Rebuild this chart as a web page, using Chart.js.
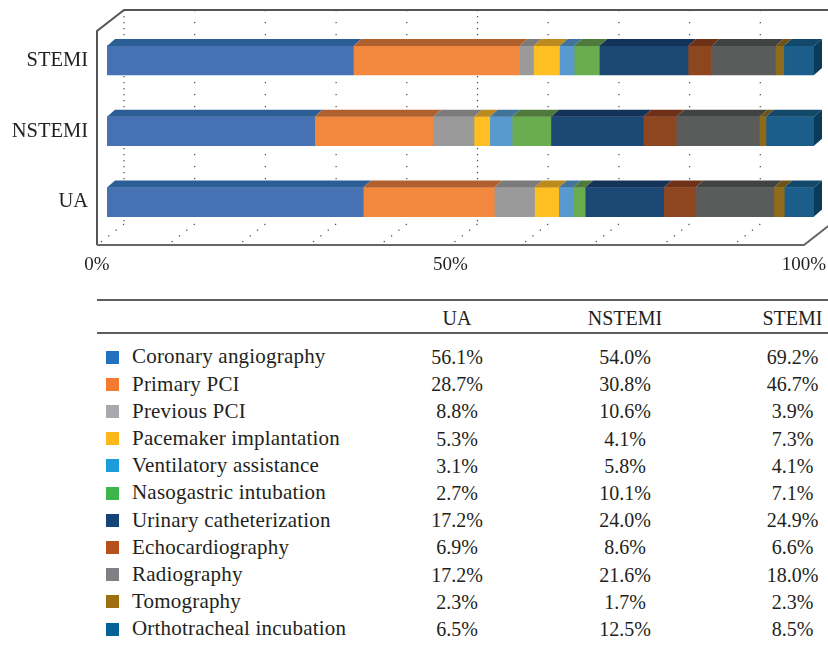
<!DOCTYPE html>
<html>
<head>
<meta charset="utf-8">
<script src="https://cdn.jsdelivr.net/npm/chart.js@4.4.1/dist/chart.umd.min.js"></script>
<style>
  html, body { margin: 0; padding: 0; background: #fff; }
  #wrap { position: relative; width: 828px; height: 646px; overflow: hidden; font-family: "Liberation Serif", "Times New Roman", serif; color: #231f20; }
  #c { position: absolute; left: 0; top: 0; }
  .rule { position: absolute; left: 97px; width: 731px; background: #5e5e5e; }
  .cell { position: absolute; font-size: 20px; line-height: 20px; white-space: nowrap; }
  .lab { font-size: 21px; letter-spacing: 0.2px; }
  .num { text-align: center; width: 120px; }
  .sq { position: absolute; width: 13px; height: 13px; }
</style>
</head>
<body>
<div id="wrap">
  <canvas id="c" width="828" height="290"></canvas>
</div>
<script>
// ---- data (from the table) ----
const categories = ['UA', 'NSTEMI', 'STEMI'];
const seriesNames = [
  'Coronary angiography', 'Primary PCI', 'Previous PCI', 'Pacemaker implantation',
  'Ventilatory assistance', 'Nasogastric intubation', 'Urinary catheterization',
  'Echocardiography', 'Radiography', 'Tomography', 'Orthotracheal incubation'
];
const coronaryAngiography   = [56.1, 54.0, 69.2];
const primaryPCI            = [28.7, 30.8, 46.7];
const previousPCI           = [8.8, 10.6, 3.9];
const pacemakerImplantation = [5.3, 4.1, 7.3];
const ventilatoryAssistance = [3.1, 5.8, 4.1];
const nasogastricIntubation = [2.7, 10.1, 7.1];
const urinaryCatheterization= [17.2, 24.0, 24.9];
const echocardiography      = [6.9, 8.6, 6.6];
const radiography           = [17.2, 21.6, 18.0];
const tomography            = [2.3, 1.7, 2.3];
const orthotrachealIncubation = [6.5, 12.5, 8.5];
const xTickValues = [0, 50, 100];

const seriesValues = [
  coronaryAngiography, primaryPCI, previousPCI, pacemakerImplantation,
  ventilatoryAssistance, nasogastricIntubation, urinaryCatheterization,
  echocardiography, radiography, tomography, orthotrachealIncubation
];

// ---- styles ----
const frontColors = ['#4672b4','#f2883d','#999a99','#fdbf22','#5899d0','#6aac50','#1c4876','#8e4621','#5a5c5c','#8e6a1b','#1b5e8b'];
const topColors   = ['#2c5e96','#b0602f','#7a7b7a','#bc8a1e','#417499','#4f7a3c','#143358','#6e3118','#414343','#6f5215','#12486a'];
const sideColor   = '#0a3c5a';
const legendColors= ['#2271be','#f47a30','#a8a9ad','#fdb718','#1c9dd9','#3eb54a','#134377','#b6501c','#7e8083','#9d6f11','#066197'];

// 100% stacked: each category normalised to its own total
const totals = categories.map((_, ci) => seriesValues.reduce((s, arr) => s + arr[ci], 0));
const datasets = seriesNames.map((name, si) => ({
  label: name,
  data: seriesValues[si].map((v, ci) => v / totals[ci] * 100),
  backgroundColor: frontColors[si],
  topColor: topColors[si],
  borderWidth: 0,
  barThickness: 29
}));

const DX = 8, DY = -7;          // bar depth
const WX = 27, WY = -21;        // wall depth
const FRONT = -10;              // front floor offset from bar plane

const threeD = {
  id: 'threeD',
  beforeDatasetsDraw(chart) {
    const ctx = chart.ctx, xs = chart.scales.x, ca = chart.chartArea;
    const floorY = ca.bottom + 7.5;
    const backFloorY = floorY + WY;
    const topY = ca.top - 15;
    ctx.save();
    // dotted gridlines
    ctx.strokeStyle = '#4a4a4a';
    ctx.lineWidth = 1.2;
    for (let v = 0; v <= 100; v += 10) {
      const fx = xs.getPixelForValue(v) + FRONT;
      const bx = fx + WX;
      ctx.setLineDash(v % 50 === 0 ? [1.3, 4.7] : [1.3, 10.7]);
      ctx.beginPath();
      ctx.moveTo(bx, topY);
      ctx.lineTo(bx, backFloorY);
      ctx.stroke();
      ctx.setLineDash([1.3, 8]);
      ctx.beginPath();
      ctx.moveTo(bx, backFloorY);
      ctx.lineTo(fx, floorY);
      ctx.stroke();
    }
    ctx.setLineDash([]);
    // frame
    const x0 = xs.getPixelForValue(0) + FRONT;
    const x1 = xs.getPixelForValue(100) + FRONT;
    ctx.strokeStyle = '#555';
    ctx.lineWidth = 2;
    ctx.lineJoin = 'miter';
    ctx.beginPath();
    ctx.moveTo(x0, floorY);
    ctx.lineTo(x0, topY - WY);
    ctx.lineTo(x0 + WX, topY);
    ctx.lineTo(chart.width + 5, topY);
    ctx.stroke();
    ctx.strokeStyle = '#666';
    ctx.beginPath();
    ctx.moveTo(x0, floorY);
    ctx.lineTo(x1, floorY);
    ctx.lineTo(x1 + WX, floorY + WY);
    ctx.stroke();
    ctx.restore();
  },
  afterDatasetsDraw(chart) {
    const ctx = chart.ctx;
    const last = chart.data.datasets.length - 1;
    ctx.save();
    chart.data.datasets.forEach((ds, i) => {
      const meta = chart.getDatasetMeta(i);
      meta.data.forEach(bar => {
        const p = bar.getProps(['x', 'y', 'base', 'height'], true);
        const top = p.y - p.height / 2, bottom = p.y + p.height / 2;
        ctx.fillStyle = ds.topColor;
        ctx.beginPath();
        ctx.moveTo(p.base, top);
        ctx.lineTo(p.base + DX, top + DY);
        ctx.lineTo(p.x + DX, top + DY);
        ctx.lineTo(p.x, top);
        ctx.closePath();
        ctx.fill();
        if (i === last) {
          ctx.fillStyle = sideColor;
          ctx.beginPath();
          ctx.moveTo(p.x, top);
          ctx.lineTo(p.x + DX, top + DY);
          ctx.lineTo(p.x + DX, bottom + DY);
          ctx.lineTo(p.x, bottom);
          ctx.closePath();
          ctx.fill();
        }
      });
    });
    ctx.restore();
  }
};

new Chart(document.getElementById('c'), {
  type: 'bar',
  data: { labels: categories, datasets },
  options: {
    indexAxis: 'y',
    responsive: false,
    animation: false,
    layout: { padding: { top: 25, right: 14, left: 0, bottom: 0 } },
    plugins: { legend: { display: false }, tooltip: { enabled: false } },
    scales: {
      x: {
        stacked: true, min: 0, max: 100,
        grid: { display: false, drawTicks: false },
        border: { display: false },
        afterBuildTicks: s => { s.ticks = xTickValues.map(v => ({ value: v })); },
        afterFit: s => { s.height = 52.5; s.paddingLeft = 0; s.paddingRight = 0; s.paddingTop = 0; s.paddingBottom = 0; },
        ticks: {
          padding: 16, labelOffset: FRONT, maxRotation: 0, autoSkip: false,
          color: '#231f20',
          font: { family: 'Liberation Serif', size: 19 },
          callback: v => v + '%'
        }
      },
      y: {
        stacked: true, reverse: true,
        grid: { display: false, drawTicks: false },
        border: { display: false },
        afterFit: s => { s.width = 107; s.paddingLeft = 0; s.paddingRight = 0; s.paddingTop = 0; s.paddingBottom = 0; },
        ticks: {
          padding: 19, color: '#231f20',
          font: { family: 'Liberation Serif', size: 20.5 }
        }
      }
    }
  },
  plugins: [threeD]
});

// ---- table ----
const wrap = document.getElementById('wrap');
function add(cls, style, text) {
  const d = document.createElement('div');
  d.className = cls;
  Object.assign(d.style, style);
  if (text !== undefined) d.textContent = text;
  wrap.appendChild(d);
  return d;
}
add('rule', { top: '299px', height: '2px' });
add('rule', { top: '332px', height: '1.5px' });
const colCenters = [457, 625, 792.5];
categories.forEach((c, ci) => {
  add('cell num', { left: (colCenters[ci] - 60) + 'px', top: (317.8 - 10.1) + 'px' }, c);
});
seriesNames.forEach((name, si) => {
  const cy = 357 + si * 27.2;
  add('sq', { left: '106px', top: (cy - 6.5) + 'px', background: legendColors[si] });
  add('cell lab', { left: '132px', top: (cy - 10.6) + 'px' }, name);
  categories.forEach((c, ci) => {
    add('cell num', { left: (colCenters[ci] - 60) + 'px', top: (cy - 10.1) + 'px' }, seriesValues[si][ci].toFixed(1) + '%');
  });
});
</script>
</body>
</html>
